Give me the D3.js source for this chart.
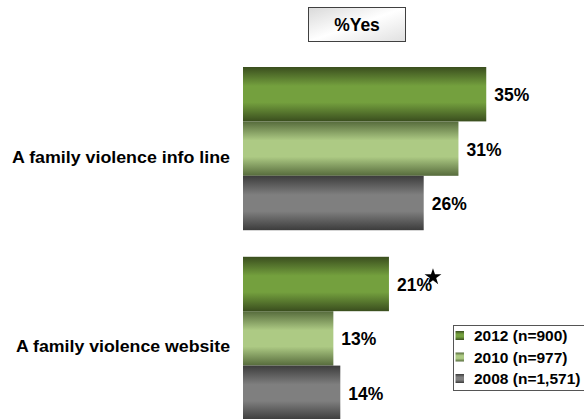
<!DOCTYPE html>
<html>
<head>
<meta charset="utf-8">
<script src="https://cdn.jsdelivr.net/npm/d3@7"></script>
<style>
  html, body { margin: 0; padding: 0; background: #fff; }
  svg { display: block; font-family: "Liberation Sans", Arial, sans-serif; }
</style>
</head>
<body>
<svg id="chart" width="584" height="419"></svg>
<script>
// Survey items and yearly results (% answering yes)
const categories = ["A family violence info line", "A family violence website"];
const seriesNames = ["2012 (n=900)", "2010 (n=977)", "2008 (n=1,571)"];
const values2012 = [35, 21];
const values2010 = [31, 13];
const values2008 = [26, 14];
const seriesValues = [values2012, values2010, values2008];
const valueLabels = [["35%", "21%"], ["31%", "13%"], ["26%", "14%"]];
const significant = [[false, true], [false, false], [false, false]];

const svg = d3.select("#chart");
const defs = svg.append("defs");

// Vertical shading for each series: dark edges, light middle
const shades = [
  { id: "g2012", edge: "#3a4e1e", mid: "#74a03e" },
  { id: "g2010", edge: "#566b3c", mid: "#adca84" },
  { id: "g2008", edge: "#3c3c3c", mid: "#7f7f7f" }
];
shades.forEach(s => {
  const g = defs.append("linearGradient").attr("id", s.id)
    .attr("x1", 0).attr("y1", 0).attr("x2", 0).attr("y2", 1);
  g.append("stop").attr("offset", "0%").attr("stop-color", s.edge);
  g.append("stop").attr("offset", "35%").attr("stop-color", s.mid);
  g.append("stop").attr("offset", "65%").attr("stop-color", s.mid);
  g.append("stop").attr("offset", "100%").attr("stop-color", s.edge);
});
const boxGrad = defs.append("linearGradient").attr("id", "boxGrad")
  .attr("x1", 0).attr("y1", 0).attr("x2", 1).attr("y2", 1);
boxGrad.append("stop").attr("offset", "0%").attr("stop-color", "#d9d9d9");
boxGrad.append("stop").attr("offset", "50%").attr("stop-color", "#ffffff");
boxGrad.append("stop").attr("offset", "100%").attr("stop-color", "#e0e0e0");

const x = d3.scaleLinear().domain([0, 50]).range([243, 243 + 347.5]);
const y0 = d3.scaleBand().domain(categories).range([67, 420]).paddingInner(0.14).paddingOuter(0);
const y1 = d3.scaleBand().domain(d3.range(seriesNames.length)).range([0, y0.bandwidth()]);

// Bars with value labels
categories.forEach((cat, ci) => {
  const g = svg.append("g").attr("transform", `translate(0,${y0(cat)})`);
  seriesValues.forEach((vals, si) => {
    g.append("rect")
      .attr("x", x(0))
      .attr("y", y1(si))
      .attr("width", x(vals[ci]) - x(0))
      .attr("height", y1.bandwidth())
      .attr("fill", `url(#${shades[si].id})`);
    const tx = x(vals[ci]) + 8;
    const ty = y1(si) + y1.bandwidth() / 2 + 7;
    const lbl = g.append("text")
      .attr("x", tx).attr("y", ty)
      .attr("font-size", 17.5).attr("font-weight", "bold").attr("fill", "#000")
      .text(valueLabels[si][ci]);
    if (significant[si][ci]) {
      const w = lbl.node().getComputedTextLength();
      g.append("path")
        .attr("d", d3.symbol(d3.symbolStar, 88)())
        .attr("transform", `translate(${tx + w + 1},${ty - 14})`)
        .attr("fill", "#000");
    }
  });
  // Category label
  svg.append("text")
    .attr("x", 230)
    .attr("y", y0(cat) + y0.bandwidth() / 2 + 14)
    .attr("text-anchor", "end")
    .attr("font-size", 16).attr("font-weight", "bold").attr("fill", "#000")
    .attr("textLength", ci === 0 ? 218 : 214)
    .attr("lengthAdjust", "spacingAndGlyphs")
    .text(cat);
});

// Header box
svg.append("rect").attr("x", 308.5).attr("y", 7.5).attr("width", 97).attr("height", 34)
  .attr("fill", "url(#boxGrad)").attr("stroke", "#404040").attr("stroke-width", 1);
svg.append("text").attr("x", 357).attr("y", 31).attr("text-anchor", "middle")
  .attr("font-size", 17.5).attr("font-weight", "bold").text("%Yes");

// Legend
const legend = svg.append("g");
legend.append("rect").attr("x", 453.5).attr("y", 325.5).attr("width", 135).attr("height", 65)
  .attr("fill", "#fff").attr("stroke", "#555").attr("stroke-width", 1);
seriesNames.forEach((name, i) => {
  const ly = 335.5 + i * 21.5;
  legend.append("rect").attr("x", 455.5).attr("y", ly - 4.5).attr("width", 8.5).attr("height", 9)
    .attr("fill", `url(#${shades[i].id})`);
  legend.append("text").attr("x", 474).attr("y", ly + 5.5)
    .attr("font-size", 15.5).attr("font-weight", "bold").text(name);
});
</script>
</body>
</html>
